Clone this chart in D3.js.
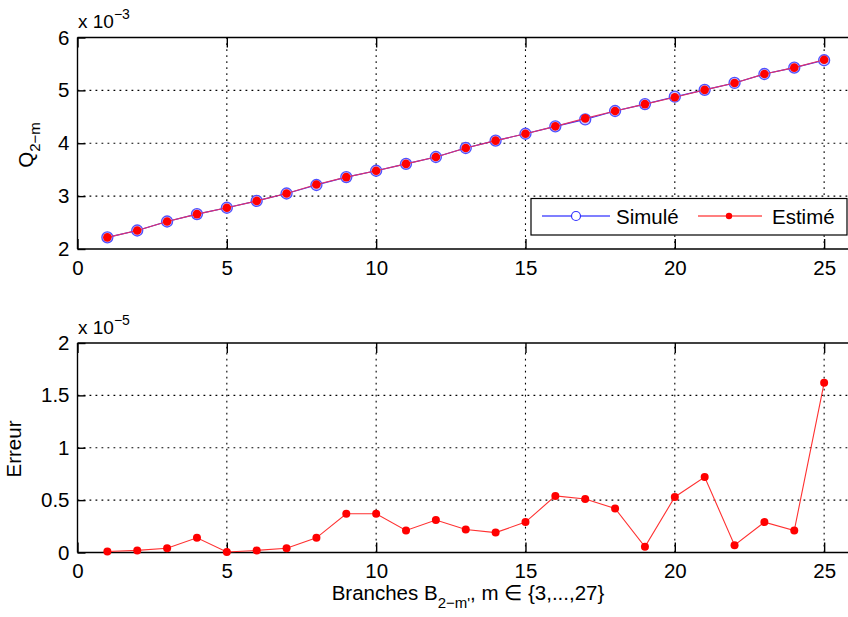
<!DOCTYPE html>
<html><head><meta charset="utf-8">
<script src="https://cdn.jsdelivr.net/npm/d3@7"></script>
<style>body{margin:0;background:#fff}svg{display:block;font-family:"Liberation Sans",Arial,sans-serif}</style>
</head><body><svg id="c" width="848" height="617"></svg>
<script>
const branches = d3.range(1, 26);
const simule = [2.22,2.35,2.52,2.66,2.78,2.91,3.05,3.21,3.36,3.48,3.61,3.74,3.91,4.05,4.18,4.32,4.45,4.61,4.74,4.88,5.01,5.14,5.31,5.43,5.57];
const estime = [2.22,2.35,2.52,2.66,2.78,2.91,3.05,3.22,3.36,3.48,3.61,3.74,3.91,4.05,4.18,4.32,4.47,4.61,4.74,4.87,5.01,5.14,5.31,5.43,5.58];
const erreur = [0.01,0.02,0.04,0.14,0.005,0.02,0.04,0.14,0.37,0.37,0.21,0.31,0.22,0.19,0.29,0.54,0.51,0.42,0.055,0.53,0.72,0.07,0.29,0.21,1.62];
const xTicks = [0,5,10,15,20,25];
const yTicksTop = [2,3,4,5,6];
const yTicksBot = [0,0.5,1,1.5,2];

const FS = "20.5px";
const svg = d3.select("#c");
const x = d3.scaleLinear().domain([0,26]).range([77.5, 854]);

function panel(yDom, yRange, yTicks, fmt) {
  const y = d3.scaleLinear().domain(yDom).range(yRange);
  const g = svg.append("g");
  const [yb, yt] = yRange;
  g.selectAll(".gx").data(xTicks.filter(t=>t>0)).join("line")
    .attr("x1", d=>x(d)).attr("x2", d=>x(d)).attr("y1", yb).attr("y2", yt)
    .attr("stroke","#000").attr("stroke-width",1.1).attr("stroke-dasharray","1.8,4.2");
  g.selectAll(".gy").data(yTicks.slice(1,-1)).join("line")
    .attr("x1", x(0)).attr("x2", 848).attr("y1", d=>y(d)).attr("y2", d=>y(d))
    .attr("stroke","#000").attr("stroke-width",1.1).attr("stroke-dasharray","1.8,4.2");
  const ax = g.append("g").attr("transform",`translate(0,${yb})`)
    .call(d3.axisBottom(x).tickValues(xTicks).tickSize(-10).tickPadding(11).tickFormat(d3.format("d")));
  const axTop = g.append("g").attr("transform",`translate(0,${yt})`)
    .call(d3.axisTop(x).tickValues(xTicks).tickSize(-10).tickFormat(""));
  const ay = g.append("g").attr("transform",`translate(${x(0)},0)`)
    .call(d3.axisLeft(y).tickValues(yTicks).tickSize(-8).tickPadding(8).tickFormat(fmt));
  [ax, axTop, ay].forEach(a => {
    a.select(".domain").attr("stroke","#000").attr("stroke-width",1.4);
    a.selectAll(".tick line").attr("stroke","#000").attr("stroke-width",1.4);
    a.selectAll("text").attr("fill","#000").style("font-size",FS).style("font-family","'Liberation Sans',Arial,sans-serif");
  });
  ax.select(".domain").attr("d", `M${x(0)},0H848`);
  axTop.select(".domain").attr("d", `M${x(0)},0H848`);
  ay.select(".domain").attr("d", `M0,${yb}V${yt}`);
  return {g, y};
}

// top panel
const pTop = panel([2,6],[249,37.5], yTicksTop, d3.format("d"));
const lineT = d3.line().x((d,i)=>x(branches[i])).y(d=>pTop.y(d));
pTop.g.append("path").datum(simule).attr("d", lineT).attr("fill","none").attr("stroke","#3030ff").attr("stroke-width",1.2);
pTop.g.selectAll(".sc").data(simule).join("circle")
  .attr("cx",(d,i)=>x(branches[i])).attr("cy",d=>pTop.y(d)).attr("r",5.5)
  .attr("fill","#c8c8ff").attr("stroke","#5050ff").attr("stroke-width",1.3);
pTop.g.append("path").datum(estime).attr("d", lineT).attr("fill","none").attr("stroke","#e0306a").attr("stroke-width",1.2);
pTop.g.selectAll(".ec").data(estime).join("circle")
  .attr("cx",(d,i)=>x(branches[i])).attr("cy",d=>pTop.y(d)).attr("r",4.3).attr("fill","#ff0000");

const e1 = svg.append("text").attr("x",78).attr("y",28).style("font-size","19px");
e1.append("tspan").text("x 10");
e1.append("tspan").attr("dy",-9).style("font-size","14px").text("\u22123");

const yl = svg.append("text").attr("transform","translate(33,145) rotate(-90)").attr("text-anchor","middle").style("font-size",FS);
yl.append("tspan").text("Q");
yl.append("tspan").attr("dy",7).style("font-size","15px").text("2\u2212m");

// legend
const lg = svg.append("g");
lg.append("rect").attr("x",531).attr("y",198.5).attr("width",316).attr("height",36.5).attr("fill","#fff").attr("stroke","#000").attr("stroke-width",1.2);
lg.append("line").attr("x1",542).attr("x2",610).attr("y1",216).attr("y2",216).attr("stroke","#0000ff").attr("stroke-width",1.2);
lg.append("circle").attr("cx",576).attr("cy",216).attr("r",4.5).attr("fill","#fff").attr("stroke","#3030ff").attr("stroke-width",1.2);
lg.append("text").attr("x",616).attr("y",224).style("font-size",FS).text("Simulé");
lg.append("line").attr("x1",698).attr("x2",762).attr("y1",216).attr("y2",216).attr("stroke","#ff0000").attr("stroke-width",1.2);
lg.append("circle").attr("cx",729).attr("cy",216).attr("r",3.2).attr("fill","#ff0000");
lg.append("text").attr("x",772).attr("y",224).style("font-size",FS).text("Estimé");

// bottom panel
const pBot = panel([0,2],[552.5,343], yTicksBot, d3.format("~g"));
const lineB = d3.line().x((d,i)=>x(branches[i])).y(d=>pBot.y(d));
pBot.g.append("path").datum(erreur).attr("d", lineB).attr("fill","none").attr("stroke","#ff3030").attr("stroke-width",1.1);
pBot.g.selectAll(".bc").data(erreur).join("circle")
  .attr("cx",(d,i)=>x(branches[i])).attr("cy",d=>pBot.y(d)).attr("r",4).attr("fill","#ff0000");

const e2 = svg.append("text").attr("x",78).attr("y",334).style("font-size","19px");
e2.append("tspan").text("x 10");
e2.append("tspan").attr("dy",-9).style("font-size","14px").text("\u22125");

svg.append("text").attr("transform","translate(21,449) rotate(-90)").attr("text-anchor","middle").style("font-size",FS).text("Erreur");

const xl = svg.append("text").attr("x",468).attr("y",600).attr("text-anchor","middle").style("font-size",FS);
xl.append("tspan").text("Branches B");
xl.append("tspan").attr("dy",8).style("font-size","15px").text("2\u2212m'");
xl.append("tspan").attr("dy",-8).text(", m \u2208 {3,...,27}");
</script></body></html>
